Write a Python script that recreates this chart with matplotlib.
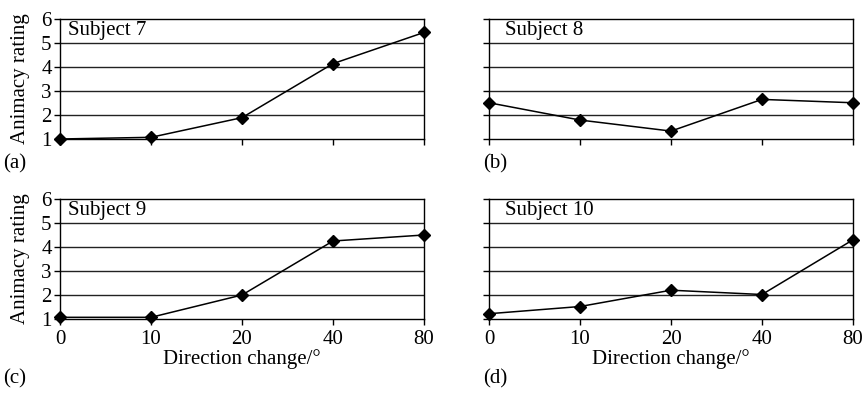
import matplotlib
matplotlib.use("Agg")
import matplotlib.pyplot as plt

plt.rcParams["font.family"] = ["Liberation Serif", "DejaVu Serif"]
plt.rcParams["font.size"] = 15

# DATA
directions = ["0", "10", "20", "40", "80"]
subjects = ["Subject 7", "Subject 8", "Subject 9", "Subject 10"]
panel_tags = ["(a)", "(b)", "(c)", "(d)"]

subject7 = [1.0, 1.07, 1.89, 4.14, 5.44]
subject8 = [2.51, 1.79, 1.33, 2.65, 2.51]
subject9 = [1.07, 1.07, 2.0, 4.25, 4.5]
subject10 = [1.22, 1.52, 2.2, 2.02, 4.3]
ratings = [subject7, subject8, subject9, subject10]

y_ticks = [1, 2, 3, 4, 5, 6]

W, H = 868, 395


# panel boxes in pixels: left, top, right, bottom
boxes = [
    (60, 19, 424, 139),
    (489, 19, 853, 139),
    (60, 199, 424, 319),
    (489, 199, 853, 319),
]
text_pad = [8, 16, 8, 16]


def make_axes(fig, box):
    l, t, r, b = box
    return fig.add_axes([l / W, 1 - b / H, (r - l) / W, (b - t) / H])


def draw_panel(ax, i):
    xs = list(range(len(directions)))
    for y in y_ticks[1:-1]:
        ax.axhline(y, color="#222222", lw=1.0, zorder=1)
    ax.plot(xs, ratings[i], color="black", lw=1.1, marker="D", markersize=6.2,
            clip_on=False, zorder=3)

    ax.set_xlim(0, len(directions) - 1)
    ax.set_ylim(1, 6)
    ax.set_xticks(xs)
    ax.set_yticks(y_ticks)
    for s in ax.spines.values():
        s.set_linewidth(1.0)
        s.set_color("black")
    ax.tick_params(axis="y", direction="out", length=4, width=1.0, pad=2)
    ax.tick_params(axis="x", direction="out", length=4, width=1.0, pad=4)

    left_col = i % 2 == 0
    bottom_row = i >= 2
    if left_col:
        ax.set_yticklabels([str(v) for v in y_ticks])
        ax.set_ylabel("Animacy rating", labelpad=8)
    else:
        ax.set_yticklabels([])
    if bottom_row:
        ax.set_xticklabels(directions)
        ax.set_xlabel("Direction change/\u00b0", labelpad=0)
    else:
        ax.set_xticklabels([])

    ax.text(text_pad[i] / 364, 0.9, subjects[i], transform=ax.transAxes,
            ha="left", va="center")


fig = plt.figure(figsize=(W / 100, H / 100), dpi=100)

for i, box in enumerate(boxes):
    ax = make_axes(fig, box)
    draw_panel(ax, i)

# panel tags
tag_pos = [(3, 164), (483, 164), (3, 379), (483, 379)]
for tag, (x, y) in zip(panel_tags, tag_pos):
    fig.text(x / W, 1 - y / H, tag, ha="left", va="center")

fig.savefig("out.png", dpi=100)
